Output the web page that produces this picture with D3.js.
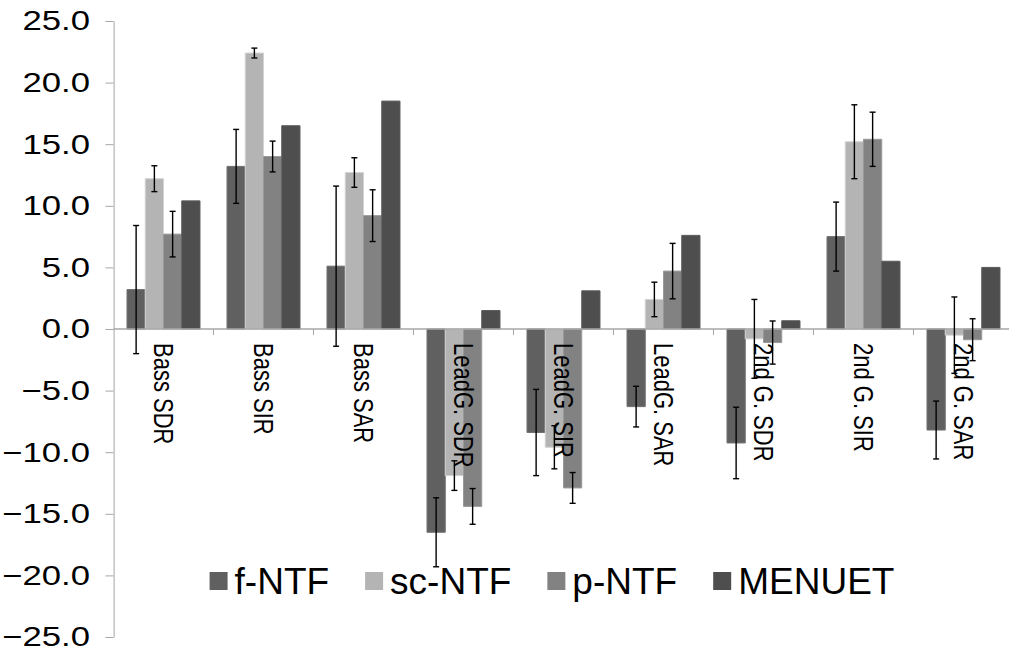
<!DOCTYPE html>
<html>
<head>
<meta charset="utf-8">
<script src="https://cdn.jsdelivr.net/npm/d3@7"></script>
<style>
  html, body { margin: 0; padding: 0; background: #fff; }
  svg { display: block; font-family: "Liberation Sans", Arial, sans-serif; }
</style>
</head>
<body>
<div id="chart"></div>
<script>
// values
const categories = ['Bass SDR', 'Bass SIR', 'Bass SAR', 'LeadG. SDR', 'LeadG. SIR', 'LeadG. SAR', '2nd G. SDR', '2nd G. SIR', '2nd G. SAR'];
const seriesNames = ['f-NTF', 'sc-NTF', 'p-NTF', 'MENUET'];
const fNTF = [3.2, 13.2, 5.1, -16.5, -8.4, -6.3, -9.25, 7.5, -8.2];
const fNTFErr = [5.2, 3.0, 6.5, 2.8, 3.5, 1.65, 2.9, 2.8, 2.35];
const scNTF = [12.2, 22.4, 12.7, -11.9, -9.6, 2.4, -0.8, 15.2, -0.5];
const scNTFErr = [1.05, 0.4, 1.2, 1.2, 1.75, 1.4, 3.2, 3.0, 3.1];
const pNTF = [7.7, 14.0, 9.2, -14.4, -12.9, 4.7, -1.1, 15.4, -0.87];
const pNTFErr = [1.85, 1.25, 2.1, 1.45, 1.25, 2.25, 1.75, 2.2, 1.7];
const menuet = [10.4, 16.5, 18.5, 1.5, 3.1, 7.6, 0.67, 5.5, 5.0];
const yTicks = [-25, -20, -15, -10, -5, 0, 5, 10, 15, 20, 25];
const colors = ['#606060', '#b4b4b4', '#828282', '#4e4e4e'];

const values = [fNTF, scNTF, pNTF, menuet];
const errors = [fNTFErr, scNTFErr, pNTFErr, null];

// the plot in the original picture is stretched sideways, so draw it in a narrower space and scale x
const SX = 1.24;
const width = 1009, height = 655;
const left = 113.5 / SX;
const catW = 100 / SX;

const svg = d3.select('#chart').append('svg')
    .attr('width', width)
    .attr('height', height);

svg.append('rect').attr('width', width).attr('height', height).attr('fill', '#fff');

const g = svg.append('g').attr('transform', `scale(${SX},1)`);

const y = d3.scaleLinear().domain([-25, 25]).range([637, 21]);

const x0 = d3.scaleBand()
    .domain(categories)
    .range([left, left + catW * categories.length]);

const x1 = d3.scaleBand()
    .domain(seriesNames)
    .range([0, x0.bandwidth()])
    .paddingOuter(0.74);

const axisColor = '#a6a6a6';

// y axis
const yAxis = g.append('g')
    .attr('transform', `translate(${left},0)`)
    .call(d3.axisLeft(y)
        .tickValues(yTicks)
        .tickFormat(d3.format('.1f'))
        .tickSize(8 / SX)
        .tickSizeOuter(0)
        .tickPadding(12.5));
yAxis.select('.domain').attr('stroke', axisColor).attr('vector-effect', 'non-scaling-stroke');
yAxis.selectAll('.tick line').attr('stroke', axisColor).attr('vector-effect', 'non-scaling-stroke');
yAxis.selectAll('.tick text')
    .attr('fill', '#000')
    .style('font-size', '28px')
    .style('font-family', '"Liberation Sans", Arial, sans-serif');

// bars
const groups = g.selectAll('g.cat')
    .data(categories)
    .enter().append('g')
    .attr('class', 'cat')
    .attr('transform', d => `translate(${x0(d)},0)`);

groups.selectAll('rect')
    .data((c, i) => seriesNames.map((s, k) => ({ s, k, v: values[k][i] })))
    .enter().append('rect')
    .attr('x', d => x1(d.s))
    .attr('width', x1.bandwidth())
    .attr('y', d => y(Math.max(0, d.v)))
    .attr('height', d => Math.abs(y(d.v) - y(0)))
    .attr('fill', d => colors[d.k])
    .attr('stroke', d => d3.color(colors[d.k]).brighter(0.45))
    .attr('stroke-width', 1)
    .attr('vector-effect', 'non-scaling-stroke');

// category axis line and ticks
g.append('line')
    .attr('x1', left).attr('x2', left + catW * categories.length)
    .attr('y1', y(0)).attr('y2', y(0))
    .attr('stroke', axisColor)
    .attr('stroke-width', 1.5)
    .attr('vector-effect', 'non-scaling-stroke');

g.selectAll('line.ctick')
    .data(categories.slice(1))
    .enter().append('line')
    .attr('class', 'ctick')
    .attr('x1', d => x0(d)).attr('x2', d => x0(d))
    .attr('y1', y(0)).attr('y2', y(0) + 6)
    .attr('stroke', axisColor)
    .attr('vector-effect', 'non-scaling-stroke');

// category labels, rotated
g.selectAll('text.clabel')
    .data(categories)
    .enter().append('text')
    .attr('class', 'clabel')
    .attr('transform', d => `translate(${x0(d) + x0.bandwidth() / 2},${y(0) + 14}) rotate(90)`)
    .attr('dominant-baseline', 'central')
    .style('font-size', '22px')
    .attr('fill', '#000')
    .text(d => d);

// error bars
const cap = 3 / SX;
const errData = [];
categories.forEach((c, i) => {
    seriesNames.forEach((s, k) => {
        if (errors[k]) errData.push({ c, s, v: values[k][i], e: errors[k][i] });
    });
});
const eb = g.selectAll('g.err')
    .data(errData)
    .enter().append('g')
    .attr('class', 'err')
    .attr('stroke', '#000')
    .attr('stroke-width', 1.4);
const cx = d => x0(d.c) + x1(d.s) + x1.bandwidth() / 2;
eb.append('line')
    .attr('x1', cx).attr('x2', cx)
    .attr('y1', d => y(d.v - d.e)).attr('y2', d => y(d.v + d.e))
    .attr('vector-effect', 'non-scaling-stroke');
eb.append('line')
    .attr('x1', d => cx(d) - cap).attr('x2', d => cx(d) + cap)
    .attr('y1', d => y(d.v + d.e)).attr('y2', d => y(d.v + d.e))
    .attr('vector-effect', 'non-scaling-stroke');
eb.append('line')
    .attr('x1', d => cx(d) - cap).attr('x2', d => cx(d) + cap)
    .attr('y1', d => y(d.v - d.e)).attr('y2', d => y(d.v - d.e))
    .attr('vector-effect', 'non-scaling-stroke');

// legend (not stretched)
const legendY = 581;
const sw = 18, swGap = 7, itemGap = 36;
const legend = svg.append('g');
const items = legend.selectAll('g.item')
    .data(seriesNames)
    .enter().append('g')
    .attr('class', 'item');
items.append('rect')
    .attr('y', legendY - 9)
    .attr('width', sw)
    .attr('height', 18)
    .attr('fill', (d, i) => colors[i]);
items.append('text')
    .attr('x', sw + swGap)
    .attr('y', legendY)
    .attr('dominant-baseline', 'central')
    .style('font-size', '37px')
    .attr('fill', '#000')
    .text(d => d);
let pos = 0;
const offsets = [];
items.each(function () {
    offsets.push(pos);
    const tw = d3.select(this).select('text').node().getComputedTextLength();
    pos += sw + swGap + tw + itemGap;
});
const total = pos - itemGap;
const start = 552 - total / 2;
items.attr('transform', (d, i) => `translate(${start + offsets[i]},0)`);
</script>
</body>
</html>
